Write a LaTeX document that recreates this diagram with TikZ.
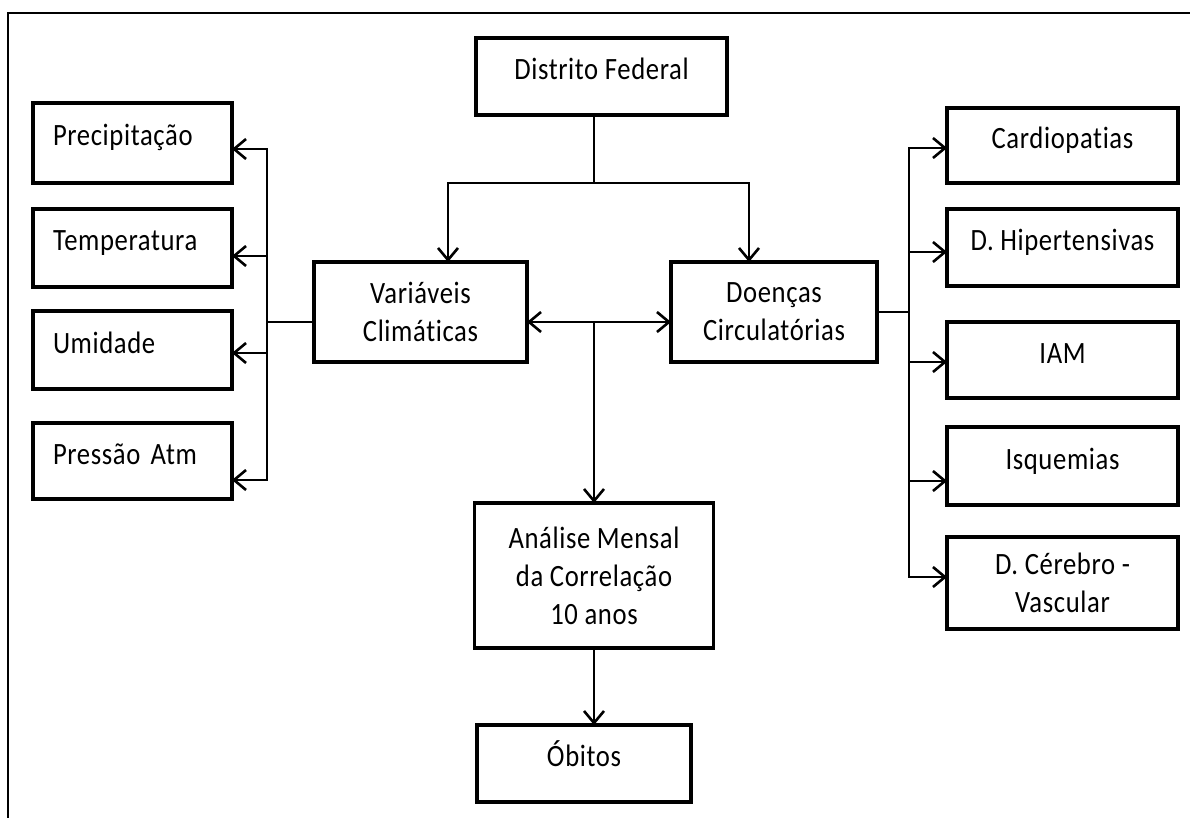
\documentclass[tikz,border=0pt]{standalone}
\usepackage{fontspec}
\setmainfont{Carlito}[FakeStretch=0.86, LetterSpace=2, Ligatures=NoCommon]
\usetikzlibrary{arrows.meta, positioning}
\tikzstyle{block} = [draw, rectangle, line width=3.8pt, outer sep=0pt, inner sep=0pt, font=\fontsize{31}{38}\selectfont]
\tikzstyle{single} = [block, text height=21pt, text depth=15pt]
\tikzstyle{double} = [block, align=center]
\tikzstyle{climate} = [single, minimum width=199pt, inner xsep=20pt, text width=159pt, align=left]
\tikzstyle{disease} = [single, minimum width=231pt]
\tikzstyle{link} = [line width=2.6pt]
\tikzstyle{arrow} = [link, ->]

\begin{document}
\begin{tikzpicture}[x=1pt, y=-1pt, >={Straight Barb[length=12pt, width=20pt]}]
    \useasboundingbox (0,0) rectangle (1190,818);
    \draw [line width=2pt] (8,818) |- (1190,13);

    % Centre.
    \node (distrito) [single, minimum width=251pt, minimum height=77pt] at (601.5,76.5) {Distrito Federal};
    \node (variaveis) [double, minimum width=213pt, minimum height=100pt] at (420.5,312) {Variáveis\\Climáticas};
    \node (doencas) [double, minimum width=206pt, minimum height=100pt, right=144pt of variaveis] {Doenças\\Circulatórias};
    \node (analise) [double, minimum width=239pt, minimum height=145pt] at (594,575.5) {Análise Mensal\\da Correlação\\10 anos};
    \node (obitos) [single, minimum width=214pt, minimum height=77pt] at (584,763.5) {Óbitos};

    % Climate variables.
    \node (precip) [climate, minimum height=80pt] at (132.5,143) {Precipitação};
    \node (temp) [climate, minimum height=78pt, below=26pt of precip] {Temperatura};
    \node (umid) [climate, minimum height=78pt, below=24pt of temp] {Umidade};
    \node (pressao) [climate, minimum height=76pt, below=34pt of umid] {Pressão Atm};

    % Diseases.
    \node (cardio) [disease, minimum height=75pt] at (1062.5,145.5) {Cardiopatias};
    \node (hiper) [disease, minimum height=77pt, below=26pt of cardio] {D. Hipertensivas};
    \node (iam) [disease, minimum height=76pt, below=36pt of hiper] {IAM};
    \node (isq) [disease, minimum height=78pt, below=29pt of iam] {Isquemias};
    \node (cerebro) [double, minimum width=231pt, minimum height=92pt, below=32pt of isq] {D. Cérebro -\\Vascular};

    % Junctions.
    \coordinate (split) at (594,183);
    \coordinate (hub) at (594,322);
    \coordinate (leftbus) at (267,322);
    \coordinate (rightbus) at (909,312);

    % Arrows.
    \draw [link] (split |- distrito.south) -- (split);
    \draw [arrow] (split) -| ([xshift=27.5pt]variaveis.north);
    \draw [arrow] (split) -| ([xshift=-25pt]doencas.north);
    \draw [link, <->] ([yshift=-10pt]variaveis.east) -- ([yshift=-10pt]doencas.west);
    \draw [arrow] (hub) -- (analise.north);
    \draw [arrow] (analise.south) -- (obitos.north -| analise.south);

    \draw [link] ([yshift=-10pt]variaveis.west) -- (leftbus);
    \foreach \n/\s in {precip/-6, temp/-8, umid/-3, pressao/-19} {
        \draw [arrow] (leftbus) |- ([yshift=\s pt]\n.east);
    }

    \draw [link] (doencas.east) -- (rightbus);
    \foreach \n/\s in {cardio/-2.5, hiper/-4.5, iam/-2, isq/-15, cerebro/6} {
        \draw [arrow] (rightbus) |- ([yshift=\s pt]\n.west);
    }
\end{tikzpicture}
\end{document}
